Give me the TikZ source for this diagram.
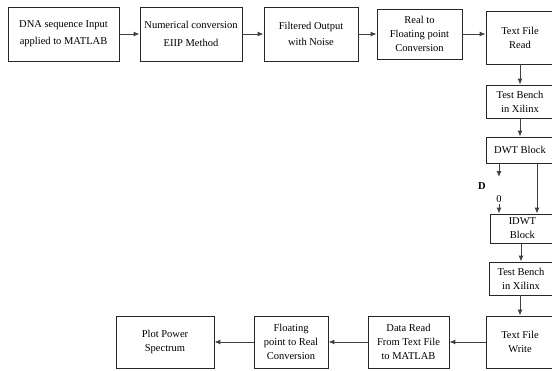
\documentclass[tikz,border=0pt]{standalone}
\usepackage{fontspec}
\setmainfont{Liberation Serif}
\usetikzlibrary{arrows.meta}

\begin{document}
\begin{tikzpicture}[x=1pt,y=-1pt]
\tikzstyle{block}=[rectangle, draw=black!85, line width=0.9pt, align=center, inner sep=0pt, font=\fontsize{10.5}{14}\selectfont]
\tikzstyle{connect}=[-{Latex[length=6pt,width=5pt]}, line width=1pt, draw=black!75]
\tikzstyle{tag}=[inner sep=1pt, font=\fontsize{10.5}{14}\selectfont]
\useasboundingbox (0,0) rectangle (552,370);
\clip (0,0) rectangle (552,370);
  % top row
  \node[block, minimum width=111pt, minimum height=54pt] (dna) at (63.5,34) {DNA sequence Input\\[3pt]applied to MATLAB};
  \node[block, minimum width=102pt, minimum height=54pt] (num) at (191,34) {Numerical conversion\\[4pt]EIIP Method};
  \node[block, minimum width=94pt, minimum height=54pt] (filt) at (311,34) {Filtered Output\\[2pt]with Noise};
  \node[block, minimum width=85pt, minimum height=50pt] (real) at (419.5,34) {Real to\\Floating point\\Conversion};
  \node[block, minimum width=68pt, minimum height=53pt] (tread) at (520,37.5) {Text File\\Read};
  % right column
  \node[block, minimum width=68pt, minimum height=33pt] (tbA) at (520,101.5) {Test Bench\\in Xilinx};
  \node[block, minimum width=68pt, minimum height=26pt] (dwt) at (520,150) {DWT Block};
  \node[block, minimum width=64pt, minimum height=29pt, anchor=west] (idwt) at (490,228.5) {IDWT\\Block};
  \node[block, minimum width=64pt, minimum height=33pt] (tbB) at (521,278.5) {Test Bench\\in Xilinx};
  \node[block, minimum width=68pt, minimum height=52pt] (twrite) at (520,342) {Text File\\Write};
  % bottom row
  \node[block, minimum width=81pt, minimum height=52pt] (dread) at (408.5,342) {Data Read\\From Text File\\to MATLAB};
  \node[block, minimum width=74pt, minimum height=52pt] (fpr) at (291,342) {Floating\\point to Real\\Conversion};
  \node[block, minimum width=98pt, minimum height=52pt] (plot) at (165,342) {Plot Power\\Spectrum};
  % DWT outputs
  \coordinate (dend) at (499,177);
  \coordinate (acol) at (537,150);
  \node[tag] (dlab) at (482,186) {\textbf{D}};
  \node[tag] (zero) at (499,199) {0};
  \node[tag] (alab) at (556,186) {\textit{A}};
  \path (dna) edge [connect] (num)
        (num) edge [connect] (filt)
        (filt) edge [connect] (real)
        (tread) edge [connect] (tbA)
        (tbA) edge [connect] (dwt)
        (twrite) edge [connect] (dread)
        (dread) edge [connect] (fpr)
        (fpr) edge [connect] (plot);
  \draw[connect] (real.east) -- (real.east -| tread.west);
  \draw[connect] (dwt.south -| dend) -- (dend);
  \draw[connect] (zero) -- (zero |- idwt.north);
  \draw[connect] (dwt.south -| acol) -- (acol |- idwt.north);
  \draw[connect] (idwt.south -| tbB.north) -- (tbB.north);
  \draw[connect] (tbB.south -| twrite.north) -- (twrite.north);
\end{tikzpicture}
\end{document}
